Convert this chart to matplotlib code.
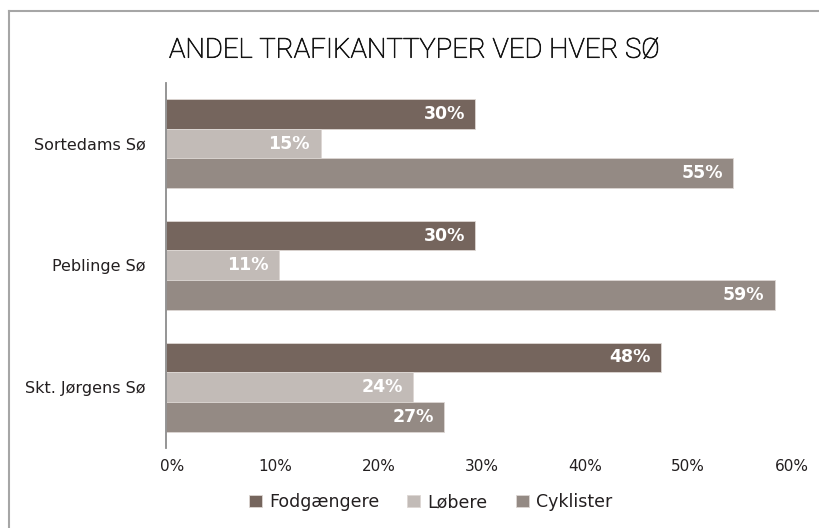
import numpy as np
import matplotlib
matplotlib.use("Agg")
import matplotlib.pyplot as plt
import matplotlib.patheffects as pe
from matplotlib.lines import Line2D
from matplotlib.transforms import ScaledTranslation

lakes = ["Sortedams Sø", "Peblinge Sø", "Skt. Jørgens Sø"]
series = ["Fodgængere", "Løbere", "Cyklister"]
fodgaengere = [30, 30, 48]
loebere = [15, 11, 24]
cyklister = [55, 59, 27]
x_ticks = [0, 10, 20, 30, 40, 50, 60]

colors = ["#75655d", "#c2bbb7", "#948a84"]
text_color = "#231f20"

plt.rcParams["font.family"] = ["DejaVu Sans"]

W, H = 819, 528
fig = plt.figure(figsize=(W / 100, H / 100), dpi=100)
ax = fig.add_axes([165.7 / W, 1 - 448 / H, (785 - 165.7) / W, (448 - 82.7) / H])

ypos = np.arange(len(lakes))
bar_h = 0.244
offsets = [-bar_h, 0, bar_h]

bar_sets = []
for values, off, col, name in zip([fodgaengere, loebere, cyklister], offsets, colors, series):
    bars = ax.barh(ypos + off, values, height=bar_h, color=col, label=name,
                   edgecolor="#ddd7d3", linewidth=0.6)
    bar_sets.append((bars, values))

for bars, values in bar_sets:
    for rect, v in zip(bars, values):
        ax.annotate(f"{v}%", xy=(v, rect.get_y() + rect.get_height() / 2),
                    xytext=(-7.6, 0), textcoords="offset points",
                    ha="right", va="center", color="white",
                    fontsize=12.5, fontweight="bold")

ax.set_xlim(0, 60)
ax.set_ylim(2.5, -0.5)
ax.set_xticks(x_ticks)
ax.set_xticklabels([f"{t}%" for t in x_ticks], fontsize=11, color=text_color)
ax.set_yticks(ypos)
ax.set_yticklabels(lakes, fontsize=11.5, color=text_color)
ax.tick_params(axis="x", length=0, pad=8)
ax.tick_params(axis="y", length=0, pad=14.2)

shift = ScaledTranslation(6.5 / 100, 0, fig.dpi_scale_trans)
for lbl in ax.get_xticklabels():
    lbl.set_transform(lbl.get_transform() + shift)

for side in ["top", "right", "bottom"]:
    ax.spines[side].set_visible(False)
ax.spines["left"].set_color("#8c8c8c")
ax.spines["left"].set_linewidth(1.3)

# thin title, thickened a touch with a stroke
fig.text(169 / W, 1 - 57.7 / H, "ANDEL TRAFIKANTTYPER VED HVER SØ",
         family=["Roboto", "DejaVu Sans"], fontweight="light", fontsize=19.8,
         color="#141414", ha="left", va="baseline",
         path_effects=[pe.withStroke(linewidth=0.5, foreground="#141414")])

fig.legend(loc="center left", bbox_to_anchor=(249 / W, 1 - 502 / H),
           ncol=3, frameon=False, fontsize=12.5, handlelength=0.75,
           handleheight=0.75, handletextpad=0.42, columnspacing=1.6,
           borderpad=0, borderaxespad=0, labelcolor=text_color)

# grey frame, open at right and bottom
frame_col = "#a6a6a6"
fig.add_artist(Line2D([8.5 / W, 1], [1 - 10.7 / H] * 2, transform=fig.transFigure,
                      color=frame_col, lw=1.5))
fig.add_artist(Line2D([8.5 / W] * 2, [0, 1 - 10.7 / H], transform=fig.transFigure,
                      color=frame_col, lw=1.5))

fig.savefig("out.png", dpi=100)
